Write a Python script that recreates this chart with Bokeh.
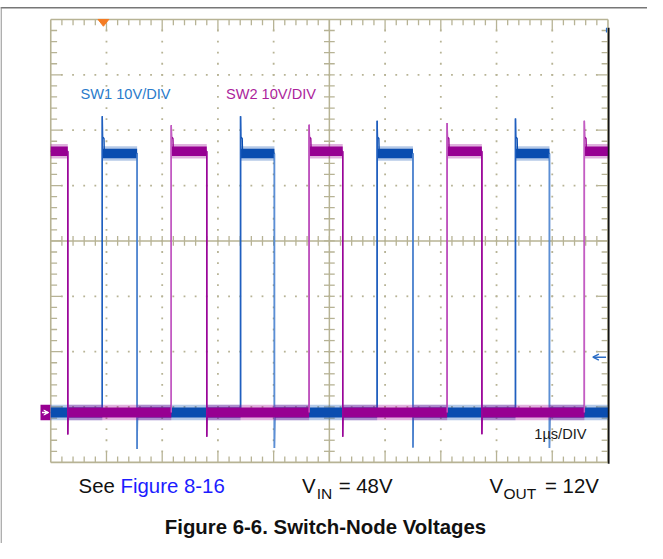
import numpy as np
from bokeh.plotting import figure
from bokeh.models import Range1d, Label, Arrow, OpenHead, VeeHead
from bokeh.embed import file_html
from bokeh.resources import INLINE

# ---------------- data ----------------
# screen: 10 horizontal divisions (1 us/div), 8 vertical divisions (10 V/div)
x_divs = list(range(0, 11))               # us
y_divs = [-9 + 10 * k for k in range(9)]  # V (ground is 0.9 div above bottom)

sw1_rise_us = [0.925, 3.406, 5.858, 8.340]
sw1_fall_us = [1.550, 4.014, 6.500, 8.950]
sw1_spike_v = [53.5, 53.5, 52.7, 53.1]
sw1_undershoot_v = [-6.6, -6.4, -6.3, -6.4]
sw1_high_v = 46.8

sw2_fall_us = [0.306, 2.800, 5.240, 7.737]
sw2_rise_us = [2.163, 4.637, 7.114, 9.576]
sw2_spike_v = [51.9, 52.0, 52.3, 52.7]
sw2_undershoot_v = [-3.95, -4.35, -4.35, -3.90]
sw2_high_v = 47.2

trigger_time_us = 0.945
trigger_level_v = 10.0

# ---------------- layout helpers (reference pixel -> data) ----------------
RW, RH = 663, 559           # reference picture size
FW, FH = 647, 543           # figure size (fits the window with its 8px margin)
S = FH / RH                 # font scale
X0, PXU = 51.5, 57.1        # graticule left px, px per us (reference pixels)
Y0, PXV = 19.5, 5.7         # graticule top px, px per V
YTOP = y_divs[-1]
XMIN, XMAX = x_divs[0], x_divs[-1]
YMIN, YMAX = y_divs[0], y_divs[-1]
YC = y_divs[4]              # center horizontal line
XC = x_divs[5]              # center vertical line


def X(px):
    return (px - X0) / PXU


def Y(py):
    return YTOP - (py - Y0) / PXV


p = figure(width=FW, height=FH,
           x_range=Range1d(X(0), X(RW)), y_range=Range1d(Y(RH), Y(0)),
           output_backend="svg", toolbar_location=None, min_border=0,
           x_axis_location=None, y_axis_location=None)
p.grid.visible = False
p.outline_line_color = None
p.background_fill_color = "white"
p.border_fill_color = "white"

GC = "#b7b395"

# page frame lines
p.segment(x0=[X(0)], y0=[Y(7.5)], x1=[X(RW)], y1=[Y(7.5)], line_color="#777777", line_width=1.6)
p.segment(x0=[X(0.6)], y0=[Y(7)], x1=[X(0.6)], y1=[Y(RH)], line_color="#8a8a8a", line_width=1.2)

# dotted division lines
dx, dy = [], []
for xv in x_divs[1:-1]:
    if xv == XC:
        continue
    for k in range(1, 40):
        dx.append(xv)
        dy.append(YMIN + 2 * k)
for yv in y_divs[1:-1]:
    if yv == YC:
        continue
    for k in range(1, 50):
        dx.append(0.2 * k)
        dy.append(yv)
p.scatter(dx, dy, marker="square", size=1.8, fill_color=GC, line_color=None)

# center cross
p.segment(x0=[XC, XMIN], y0=[YMIN, YC], x1=[XC, XMAX], y1=[YMAX, YC], line_color=GC, line_width=1.5)
tx0, ty0, tx1, ty1 = [], [], [], []
for k in range(1, 40):
    yv = YMIN + 2 * k
    tx0.append(XC - 5.5 / PXU); tx1.append(XC + 5.5 / PXU); ty0.append(yv); ty1.append(yv)
for k in range(1, 50):
    xv = 0.2 * k
    tx0.append(xv); tx1.append(xv); ty0.append(YC - 5 / PXV); ty1.append(YC + 5 / PXV)

# border ticks
for k in range(1, 40):
    yv = YMIN + 2 * k
    L = (11 if k % 5 == 0 else 6.5) / PXU
    tx0 += [XMIN, XMAX]; tx1 += [XMIN + L, XMAX - L]; ty0 += [yv, yv]; ty1 += [yv, yv]
for k in range(1, 50):
    xv = 0.2 * k
    L = (11 if k % 5 == 0 else 6) / PXV
    tx0 += [xv, xv]; tx1 += [xv, xv]; ty0 += [YMIN, YMAX]; ty1 += [YMIN + L, YMAX - L]
p.segment(x0=tx0, y0=ty0, x1=tx1, y1=ty1, line_color=GC, line_width=1.3)

# border
p.segment(x0=[XMIN, XMAX, XMIN, XMIN], y0=[YMIN, YMIN, YMIN, YMAX],
          x1=[XMIN, XMAX, XMAX, XMAX], y1=[YMAX, YMAX, YMIN, YMAX], line_color=GC, line_width=1.6)


# ---------------- waveforms ----------------
def build(rises, falls, spikes, unders, high, start_high):
    ev = sorted([(t, "r", i) for i, t in enumerate(rises)] + [(t, "f", i) for i, t in enumerate(falls)])
    xs, ys = [XMIN], [high if start_high else 0.0]
    hi_iv, lo_iv = [], []
    cur_start, cur_high = XMIN, start_high
    for t, kind, i in ev:
        if kind == "r":
            lo_iv.append((cur_start, t))
            xs += [t, t, t + 0.006, t + 0.03, t + 0.036]
            ys += [0.0, spikes[i], 49.8, 49.5, high]
            cur_start, cur_high = t + 0.008, True
        else:
            hi_iv.append((cur_start, t))
            xs += [t, t, t + 0.008]
            ys += [high, unders[i], 0.0]
            cur_start, cur_high = t + 0.008, False
    (hi_iv if cur_high else lo_iv).append((cur_start, XMAX))
    xs.append(XMAX)
    ys.append(high if cur_high else 0.0)
    return xs, ys, hi_iv, lo_iv


def draw(rises, falls, spikes, unders, high, start_high, core, edge_r, edge_f):
    xs, ys, hi_iv, lo_iv = build(rises, falls, spikes, unders, high, start_high)
    p.line(xs, ys, line_color=core, line_width=1.4)
    # noisy bands (solid core + faint fringe)
    for iv, lvl, hw, fw in ((hi_iv, high, 0.85, 1.3), (lo_iv, 0.0, 0.9, 1.4)):
        left = [a for a, b in iv]
        right = [b for a, b in iv]
        p.quad(left=left, right=right, bottom=[lvl - fw] * len(iv), top=[lvl + fw] * len(iv),
               fill_color=core, fill_alpha=0.3, line_color=None)
        p.quad(left=left, right=right, bottom=[lvl - hw] * len(iv), top=[lvl + hw] * len(iv),
               fill_color=core, line_color=None)
    p.segment(x0=rises, y0=[0.0] * len(rises), x1=rises, y1=spikes, line_color=edge_r, line_width=1.4)
    p.segment(x0=falls, y0=[high] * len(falls), x1=falls, y1=unders, line_color=edge_f, line_width=1.4)


BLUE, MAG = "#0a4db0", "#970092"
draw(sw1_rise_us, sw1_fall_us, sw1_spike_v, sw1_undershoot_v, sw1_high_v, False, BLUE, "#1f5fc0", "#5b8fd6")
draw(sw2_rise_us, sw2_fall_us, sw2_spike_v, sw2_undershoot_v, sw2_high_v, True, MAG, "#c45cc4", "#9a069a")

# ---------------- markers ----------------
# trigger position (orange, top)
p.patch([trigger_time_us - 5.5 / PXU, trigger_time_us + 5.5 / PXU, trigger_time_us],
        [Y(19.5), Y(19.5), Y(26.5)], fill_color="#f47b22", line_color="#f47b22")
# ground marker (left)
p.rect(x=[X(46)], y=[0.0], width=10 / PXU, height=16 / PXV, fill_color=MAG, line_color=None)
p.add_layout(Arrow(x_start=X(42.5), y_start=0.0, x_end=X(49.5), y_end=0.0, line_color="white", line_width=1.5,
                   end=VeeHead(size=5, fill_color="white", line_color="white")))
# trigger level (right)
p.add_layout(Arrow(x_start=X(620.5), y_start=trigger_level_v, x_end=X(607), y_end=trigger_level_v,
                   line_color="#2a6cc4", line_width=1.4,
                   end=OpenHead(size=6, line_color="#2a6cc4", line_width=1.4)))
# right black screen edge
p.segment(x0=[X(623.2)], y0=[Y(28)], x1=[X(623.2)], y1=[Y(477)], line_color="#111111", line_width=1.8)
p.segment(x0=[X(621)], y0=[Y(28)], x1=[X(621)], y1=[Y(33)], line_color="#2a6cc4", line_width=1.2)

# ---------------- texts ----------------
FONT = "Liberation Sans"
BASE_FIX = 0.34   # empirical: Bokeh places the alphabetic baseline a bit low


def lab(px, py, text, size, color, align="left", style="normal"):
    p.add_layout(Label(x=X(px), y=Y(py - BASE_FIX * size), text=text, text_font=FONT,
                       text_font_size=f"{size * S:.1f}px",
                       text_color=color, text_align=align, text_baseline="alphabetic",
                       text_font_style=style))


lab(82, 101.7, "SW1 10V/DIV", 15, "#2a7bcb")
lab(231, 101.7, "SW2 10V/DIV", 15, "#ac1f9c")
lab(547, 451.7, "1µs/DIV", 15, "#1a1a1a")

lab(80, 507, "See", 21, "#111111")
lab(123, 507, "Figure 8-16", 21, "#1c1cff")
lab(309, 507, "V", 21, "#111111")
lab(324, 512.5, "IN", 16, "#111111")
lab(346.5, 507, "= 48V", 21, "#111111")
lab(501, 507, "V", 21, "#111111")
lab(515.5, 512.5, "OUT", 16, "#111111")
lab(558, 507, "= 12V", 21, "#111111")
lab(333, 549.5, "Figure 6-6. Switch-Node Voltages", 21, "#111111", align="center", style="bold")

open("out.html", "w").write(file_html(p, INLINE))
